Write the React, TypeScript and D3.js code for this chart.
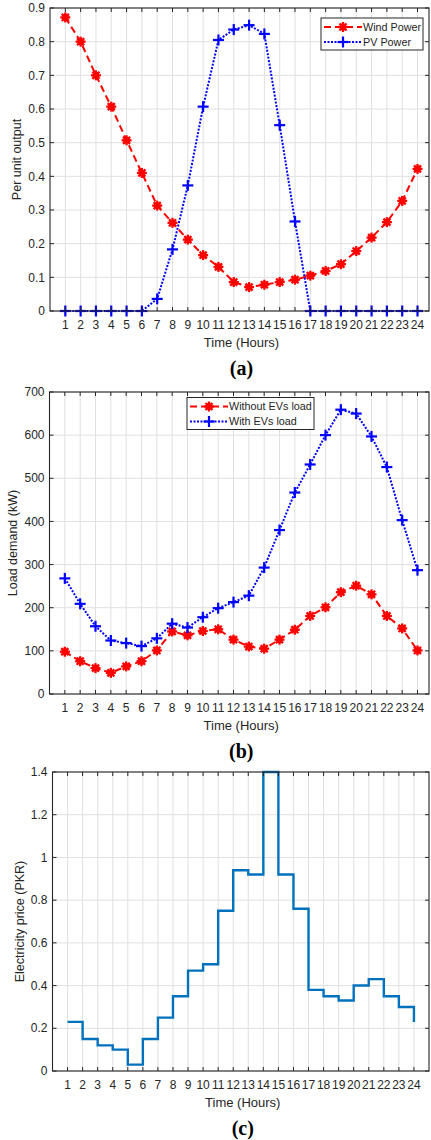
import React from "react";
import * as d3 from "d3";

// hourly data
const hours = [1, 2, 3, 4, 5, 6, 7, 8, 9, 10, 11, 12, 13, 14, 15, 16, 17, 18, 19, 20, 21, 22, 23, 24];

const windPower = [0.872, 0.8, 0.7, 0.607, 0.507, 0.41, 0.313, 0.262, 0.212, 0.166, 0.131, 0.086, 0.071, 0.078, 0.086, 0.093, 0.105, 0.119, 0.139, 0.178, 0.218, 0.264, 0.327, 0.422];
const pvPower = [0, 0, 0, 0, 0, 0, 0.036, 0.183, 0.373, 0.607, 0.805, 0.836, 0.849, 0.823, 0.552, 0.266, 0, 0, 0, 0, 0, 0, 0, 0];

const loadWithoutEV = [98, 76, 60, 49, 64, 76, 101, 145, 136, 146, 150, 126, 110, 105, 126, 149, 181, 201, 236, 251, 231, 181, 152, 101];
const loadWithEV = [268, 209, 157, 124, 118, 111, 129, 163, 154, 178, 199, 213, 228, 293, 380, 467, 532, 600, 659, 650, 597, 526, 403, 287];

const price = [0.23, 0.15, 0.12, 0.1, 0.03, 0.15, 0.25, 0.35, 0.47, 0.5, 0.75, 0.94, 0.92, 1.4, 0.92, 0.76, 0.38, 0.35, 0.33, 0.4, 0.43, 0.35, 0.3, 0.23];

const ticksA = [0, 0.1, 0.2, 0.3, 0.4, 0.5, 0.6, 0.7, 0.8, 0.9];
const ticksB = [0, 100, 200, 300, 400, 500, 600, 700];
const ticksC = [0, 0.2, 0.4, 0.6, 0.8, 1, 1.2, 1.4];

const ink = "#262626";
const gridColor = "#e0e0e0";
const sans = "'Liberation Sans', Arial, Helvetica, sans-serif";
const serif = "'Liberation Serif', 'Times New Roman', serif";
const RED = "#ff0000";
const BLUE = "#0000ff";
const PRICE_BLUE = "#0072bd";

type Scale = d3.ScaleLinear<number, number>;

const Star = ({ x, y }: { x: number; y: number }) => (
  <g>
    <circle cx={x} cy={y} r={3.4} fill={RED} />
    {[0, 45, 90, 135].map((a) => {
      const r = (a * Math.PI) / 180;
      const dx = Math.cos(r) * 5;
      const dy = Math.sin(r) * 5;
      return (
        <line key={a} x1={x - dx} y1={y - dy} x2={x + dx} y2={y + dy} stroke={RED} strokeWidth={2.3} />
      );
    })}
  </g>
);

const Plus = ({ x, y }: { x: number; y: number }) => (
  <g stroke={BLUE} strokeWidth={2.2}>
    <line x1={x - 5.5} y1={y} x2={x + 5.5} y2={y} />
    <line x1={x} y1={y - 5.5} x2={x} y2={y + 5.5} />
  </g>
);

const Legend = ({ x, y, w, labels }: { x: number; y: number; w: number; labels: string[] }) => {
  const row = (i: number) => y + 9 + i * 15;
  return (
    <g>
      <rect x={x} y={y} width={w} height={32} fill="white" stroke={ink} strokeWidth={1} />
      <line x1={x + 3} x2={x + 41} y1={row(0)} y2={row(0)} stroke={RED} strokeWidth={2} strokeDasharray="7,4" />
      <Star x={x + 22} y={row(0)} />
      <line x1={x + 3} x2={x + 41} y1={row(1)} y2={row(1)} stroke={BLUE} strokeWidth={2} strokeDasharray="2,1.5" />
      <Plus x={x + 22} y={row(1)} />
      {labels.map((l, i) => (
        <text key={l} x={x + 42} y={row(i)} dy="0.35em" fontSize={10.8} fontFamily={sans} fill={ink}>
          {l}
        </text>
      ))}
    </g>
  );
};

type PanelProps = {
  left: number;
  right: number;
  top: number;
  bottom: number;
  xMax: number;
  yMax: number;
  yTicks: number[];
  ylabel: string;
  ylabelX: number;
  caption: string;
  children: (x: Scale, y: Scale) => React.ReactNode;
};

const Panel = ({ left, right, top, bottom, xMax, yMax, yTicks, ylabel, ylabelX, caption, children }: PanelProps) => {
  const x = d3.scaleLinear().domain([0, xMax]).range([left, right]);
  const y = d3.scaleLinear().domain([0, yMax]).range([bottom, top]);
  const tl = 4;
  const fmt = (v: number) => String(+v.toFixed(2));
  return (
    <g>
      {hours.map((h) => (
        <line key={"gx" + h} x1={x(h)} x2={x(h)} y1={top} y2={bottom} stroke={gridColor} strokeWidth={1} />
      ))}
      {yTicks.map((t) => (
        <line key={"gy" + t} x1={left} x2={right} y1={y(t)} y2={y(t)} stroke={gridColor} strokeWidth={1} />
      ))}
      {children(x, y)}
      <rect x={left} y={top} width={right - left} height={bottom - top} fill="none" stroke={ink} strokeWidth={1.1} />
      {hours.map((h) => (
        <g key={"tx" + h} stroke={ink} strokeWidth={1}>
          <line x1={x(h)} x2={x(h)} y1={bottom} y2={bottom - tl} />
          <line x1={x(h)} x2={x(h)} y1={top} y2={top + tl} />
        </g>
      ))}
      {yTicks.map((t) => (
        <g key={"ty" + t} stroke={ink} strokeWidth={1}>
          <line x1={left} x2={left + tl} y1={y(t)} y2={y(t)} />
          <line x1={right} x2={right - tl} y1={y(t)} y2={y(t)} />
        </g>
      ))}
      {hours.map((h) => (
        <text key={"lx" + h} x={x(h)} y={bottom + 14} dy="0.35em" textAnchor="middle" fontSize={12} fontFamily={sans} fill={ink}>
          {h}
        </text>
      ))}
      {yTicks.map((t) => (
        <text key={"ly" + t} x={left - 5} y={y(t)} dy="0.35em" textAnchor="end" fontSize={12} fontFamily={sans} fill={ink}>
          {fmt(t)}
        </text>
      ))}
      <text x={(left + right) / 2 + 2} y={bottom + 31} dy="0.35em" textAnchor="middle" fontSize={13} fontFamily={sans} fill={ink}>
        Time (Hours)
      </text>
      <text
        transform={`translate(${ylabelX},${(top + bottom) / 2}) rotate(-90)`}
        textAnchor="middle"
        dy="0.35em"
        fontSize={12.5}
        fontFamily={sans}
        fill={ink}
      >
        {ylabel}
      </text>
      <text x={(left + right) / 2 + 2} y={bottom + 57} dy="0.35em" textAnchor="middle" fontSize={20} fontWeight="bold" fontFamily={serif} fill="#000">
        {caption}
      </text>
    </g>
  );
};

const lineGen = (x: Scale, y: Scale, vals: number[]) =>
  d3
    .line<number>()
    .x((_, i) => x(hours[i]))
    .y((d) => y(d))(vals) || "";

export default function App() {
  return (
    <svg width={431} height={1140} style={{ position: "absolute", left: 0, top: 0, background: "white" }}>
      <Panel left={50} right={429} top={8} bottom={311} xMax={24.75} yMax={0.9} yTicks={ticksA} ylabel="Per unit output" ylabelX={17} caption="(a)">
        {(x, y) => (
          <g>
            <path d={lineGen(x, y, windPower)} fill="none" stroke={RED} strokeWidth={2} strokeDasharray="7,4" />
            <path d={lineGen(x, y, pvPower)} fill="none" stroke={BLUE} strokeWidth={2} strokeDasharray="2,1.5" />
            {windPower.map((v, i) => (
              <Star key={"w" + i} x={x(hours[i])} y={y(v)} />
            ))}
            {pvPower.map((v, i) => (
              <Plus key={"p" + i} x={x(hours[i])} y={y(v)} />
            ))}
            <Legend x={321} y={18} w={102} labels={["Wind Power", "PV Power"]} />
          </g>
        )}
      </Panel>
      <Panel left={49.5} right={429} top={392} bottom={694} xMax={24.75} yMax={700} yTicks={ticksB} ylabel="Load demand (kW)" ylabelX={13} caption="(b)">
        {(x, y) => (
          <g>
            <path d={lineGen(x, y, loadWithoutEV)} fill="none" stroke={RED} strokeWidth={2} strokeDasharray="7,4" />
            <path d={lineGen(x, y, loadWithEV)} fill="none" stroke={BLUE} strokeWidth={2} strokeDasharray="2,1.5" />
            {loadWithoutEV.map((v, i) => (
              <Star key={"n" + i} x={x(hours[i])} y={y(v)} />
            ))}
            {loadWithEV.map((v, i) => (
              <Plus key={"e" + i} x={x(hours[i])} y={y(v)} />
            ))}
            <Legend x={187} y={397.5} w={127} labels={["Without EVs load", "With EVs load"]} />
          </g>
        )}
      </Panel>
      <Panel left={52.5} right={429} top={772} bottom={1071} xMax={25} yMax={1.4} yTicks={ticksC} ylabel="Electricity price (PKR)" ylabelX={20} caption="(c)">
        {(x, y) => (
          <path
            d={
              d3
                .line<number>()
                .x((_, i) => x(hours[i]))
                .y((d) => y(d))
                .curve(d3.curveStepAfter)(price) || ""
            }
            fill="none"
            stroke={PRICE_BLUE}
            strokeWidth={2.4}
          />
        )}
      </Panel>
    </svg>
  );
}
